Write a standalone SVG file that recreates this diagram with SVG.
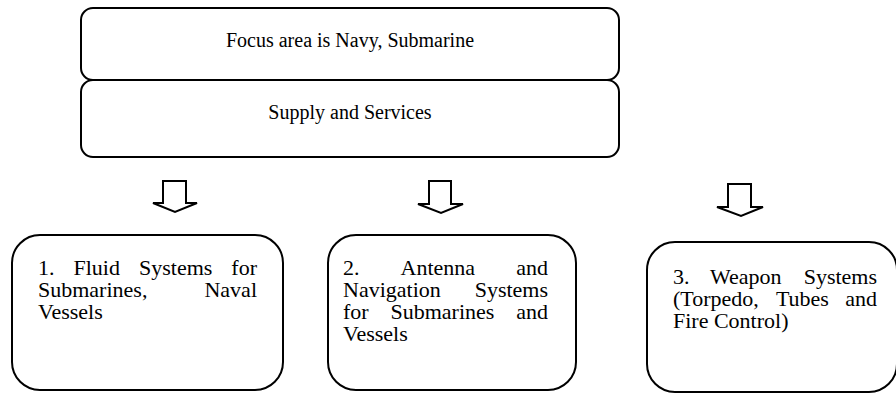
<svg xmlns="http://www.w3.org/2000/svg" width="896" height="394" viewBox="0 0 896 394">
<style>
.box{fill:#fff;stroke:#000;stroke-width:2}
.arr{fill:#fff;stroke:#000;stroke-width:2;stroke-linejoin:miter}
.t{font-family:"Liberation Serif","Times New Roman",serif;fill:#000}
.top{font-size:20px;text-anchor:middle}
.b{font-size:22px}
.e{text-anchor:end}
</style>
<rect width="896" height="394" fill="#fff"/>
<g id="focus">
<rect class="box" x="81" y="8" width="538" height="72" rx="12" ry="12"/>
<text class="t top" x="350" y="47">Focus area is Navy, Submarine</text>
</g>
<g id="supply">
<rect class="box" x="81" y="80" width="538" height="77" rx="12" ry="12"/>
<text class="t top" x="350" y="119">Supply and Services</text>
</g>
<g id="connectors">
<path class="arr" d="M163,181 H186 V203 H197 L175,212 L153,203 H163 Z"/>
<path class="arr" d="M429,181 H451 V204 H463 L441,213 L418,204 H429 Z"/>
<path class="arr" d="M728,184 H751 V207 H763 L741,216 L717,207 H728 Z"/>
</g>
<g id="fluid">
<rect class="box" x="12" y="235" width="271" height="155" rx="28" ry="28"/>
<text class="t b"><tspan x="38" y="275">1.</tspan><tspan x="73.5" y="275">Fluid</tspan><tspan x="139" y="275">Systems</tspan><tspan class="e" x="257" y="275">for</tspan><tspan x="38" y="297">Submarines,</tspan><tspan class="e" x="257" y="297">Naval</tspan><tspan x="38" y="319">Vessels</tspan></text>
</g>
<g id="antenna">
<rect class="box" x="328" y="235" width="248" height="155" rx="28" ry="28"/>
<text class="t b"><tspan x="343" y="275">2.</tspan><tspan x="400.6" y="275">Antenna</tspan><tspan class="e" x="548" y="275">and</tspan><tspan x="343" y="297">Navigation</tspan><tspan class="e" x="548" y="297">Systems</tspan><tspan x="343" y="319">for</tspan><tspan x="390.5" y="319">Submarines</tspan><tspan class="e" x="548" y="319">and</tspan><tspan x="343" y="341">Vessels</tspan></text>
</g>
<g id="weapon">
<rect class="box" x="647" y="242" width="250" height="150" rx="28" ry="28"/>
<text class="t b"><tspan x="673" y="284">3.</tspan><tspan x="710" y="284">Weapon</tspan><tspan class="e" x="877" y="284">Systems</tspan><tspan x="673" y="306">(Torpedo,</tspan><tspan x="775.9" y="306">Tubes</tspan><tspan class="e" x="877" y="306">and</tspan><tspan x="673" y="328">Fire Control)</tspan></text>
</g>
</svg>
